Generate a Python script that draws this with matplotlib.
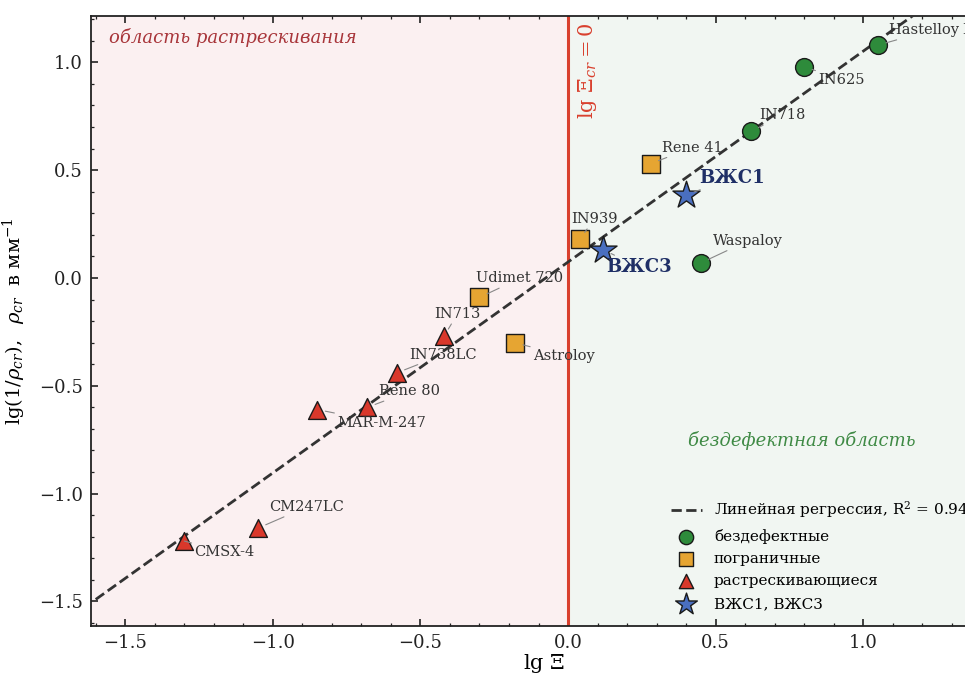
import matplotlib
matplotlib.use("Agg")
import matplotlib.pyplot as plt
from matplotlib.ticker import MultipleLocator
import numpy as np

plt.rcParams['font.family'] = ['DejaVu Serif']
plt.rcParams['mathtext.fontset'] = 'dejavuserif'

# ---- data ----
good_names = ["Hastelloy X", "IN625", "IN718", "Waspaloy"]
good_x = [1.05, 0.80, 0.62, 0.45]
good_y = [1.08, 0.98, 0.68, 0.07]

border_names = ["Rene 41", "IN939", "Udimet 720", "Astroloy"]
border_x = [0.28, 0.04, -0.30, -0.18]
border_y = [0.53, 0.18, -0.09, -0.30]

crack_names = ["IN713", "IN738LC", "Rene 80", "MAR-M-247", "CM247LC", "CMSX-4"]
crack_x = [-0.42, -0.58, -0.68, -0.85, -1.05, -1.30]
crack_y = [-0.27, -0.44, -0.60, -0.61, -1.16, -1.22]

star_names = ["ВЖС1", "ВЖС3"]
star_x = [0.40, 0.12]
star_y = [0.385, 0.13]

reg_slope = 0.978
reg_intercept = 0.074
reg_r2 = 0.94

# label offsets in points (style, not data)
px = 1 / 1.389
offsets = {
    "Hastelloy X": (11, 15), "IN625": (14, -13), "IN718": (8, 16), "Waspaloy": (12, 22),
    "Rene 41": (11, 16), "IN939": (-9, 20), "Udimet 720": (-3, 19), "Astroloy": (18, -13),
    "IN713": (-10, 22), "IN738LC": (12, 18), "Rene 80": (12, 16), "MAR-M-247": (20, -13),
    "CM247LC": (11, 21), "CMSX-4": (10, -11), "ВЖС1": (13, 17), "ВЖС3": (3, -17),
}

fig = plt.figure(figsize=(9.65, 6.77), dpi=100)
xlim = (-1.616, 1.45)
ylim = (-1.614, 1.215)
ppu_x = 295.2
ax_w = (xlim[1] - xlim[0]) * ppu_x / 965
ax = fig.add_axes([91 / 965, 51 / 677, ax_w, 610 / 677])
ax.set_xlim(*xlim)
ax.set_ylim(*ylim)

ax.axvspan(xlim[0], 0, color='#fbf0f1', zorder=0)
ax.axvspan(0, xlim[1], color='#f1f6f2', zorder=0)
ax.axvline(0, color='#d9402e', lw=2.2, zorder=2)
ax.text(0.028, 1.185, r'$\lg\,\Xi_{cr} = 0$', color='#d9402e', rotation=90,
        ha='left', va='top', fontsize=15)

xr = np.array([-1.6, 1.45])
ax.plot(xr, reg_intercept + reg_slope * xr, ls='--', color='#333333', lw=2.0, zorder=3,
        label=f'Линейная регрессия, R$^2$ = {reg_r2:.2f}')

ms = 165
ax.scatter(good_x, good_y, s=ms, marker='o', color='#2e8b3b', edgecolor='#1a1a1a',
           linewidth=1.0, zorder=5, label='бездефектные')
ax.scatter(border_x, border_y, s=ms, marker='s', color='#e6a532', edgecolor='#1a1a1a',
           linewidth=1.0, zorder=5, label='пограничные')
ax.scatter(crack_x, crack_y, s=ms, marker='^', color='#d9382b', edgecolor='#1a1a1a',
           linewidth=1.0, zorder=5, label='растрескивающиеся')
ax.scatter(star_x, star_y, s=420, marker='*', color='#4a6fc0', edgecolor='#1a1a1a',
           linewidth=1.0, zorder=6, label='ВЖС1, ВЖС3')

def annotate(names, xs, ys, **kw):
    for n, x, y in zip(names, xs, ys):
        dx, dy = offsets[n]
        ax.annotate(n, (x, y), xytext=(dx * px, dy * px), textcoords='offset points',
                    ha='left', va='center', zorder=7,
                    arrowprops=dict(arrowstyle='-', color='#888888', lw=0.8,
                                    shrinkA=0, shrinkB=6), **kw)

annotate(good_names, good_x, good_y, fontsize=10.5, color='#333333')
annotate(border_names, border_x, border_y, fontsize=10.5, color='#333333')
annotate(crack_names, crack_x, crack_y, fontsize=10.5, color='#333333')
annotate(star_names, star_x, star_y, fontsize=13, color='#1f2f66', fontweight='bold')

ax.text(-1.555, 1.115, 'область растрескивания', color='#a8353a', style='italic',
        fontsize=13, ha='left', va='center')
ax.text(0.79, -0.755, 'бездефектная область', color='#3f8a45', style='italic',
        fontsize=13, ha='center', va='center')

ax.set_xlabel(r'$\lg\,\Xi$', fontsize=15, labelpad=0)
ax.set_ylabel(r'$\lg(1/\rho_{cr}),\ \ \rho_{cr}$  в мм$^{-1}$', fontsize=14, labelpad=8)

ax.xaxis.set_major_locator(MultipleLocator(0.5))
ax.xaxis.set_minor_locator(MultipleLocator(0.1))
ax.yaxis.set_major_locator(MultipleLocator(0.5))
ax.yaxis.set_minor_locator(MultipleLocator(0.1))
ax.tick_params(which='both', direction='in', top=True, right=True, colors='#222222')
ax.tick_params(which='major', length=5, width=1.2, labelsize=13, pad=6)
ax.tick_params(which='minor', length=2.5, width=0.9)
for s in ax.spines.values():
    s.set_linewidth(1.3)
    s.set_color('#222222')

leg = ax.legend(loc='lower left', bbox_to_anchor=(665 / 965, 60 / 677),
                bbox_transform=fig.transFigure, frameon=False, fontsize=11,
                handlelength=2.0, handletextpad=0.8, labelspacing=0.55,
                borderaxespad=0, markerscale=0.8)
fig.savefig('out.png', dpi=100)
